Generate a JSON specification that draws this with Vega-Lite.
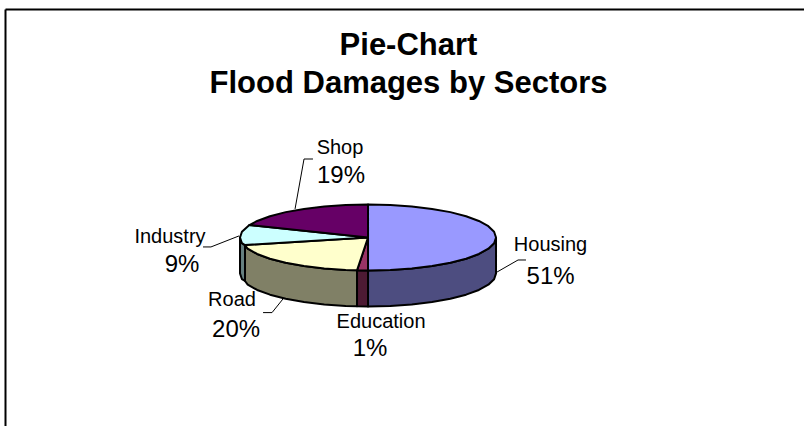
{
  "$schema": "https://vega.github.io/schema/vega-lite/v6.json",
  "width": 799,
  "height": 417,
  "autosize": {"type": "none"},
  "padding": {"left": 5, "top": 9, "right": 0, "bottom": 0},
  "background": "#ffffff",
  "view": {"stroke": null},
  "title": {
    "text": ["Pie-Chart", "Flood Damages by Sectors"],
    "anchor": "middle",
    "frame": "group",
    "font": "Liberation Sans",
    "fontSize": 31,
    "fontWeight": "bold",
    "color": "#000000",
    "lineHeight": 38,
    "baseline": "alphabetic",
    "offset": 0,
    "dx": 4,
    "dy": 115
  },
  "config": {"text": {"font": "Liberation Sans", "color": "#000000"}},
  "datasets": {
    "faces": [
      {"face":"Housing side","v":0,"x":1,"y":0},{"face":"Housing side","v":1,"x":0.985,"y":-0.045},{"face":"Housing side","v":2,"x":0.94,"y":-0.088},{"face":"Housing side","v":3,"x":0.866,"y":-0.129},{"face":"Housing side","v":4,"x":0.766,"y":-0.166},{"face":"Housing side","v":5,"x":0.643,"y":-0.198},{"face":"Housing side","v":6,"x":0.5,"y":-0.223},{"face":"Housing side","v":7,"x":0.342,"y":-0.242},{"face":"Housing side","v":8,"x":0.174,"y":-0.254},{"face":"Housing side","v":9,"x":0,"y":-0.258},{"face":"Housing side","v":10,"x":0,"y":-0.539},{"face":"Housing side","v":11,"x":0.174,"y":-0.535},{"face":"Housing side","v":12,"x":0.342,"y":-0.523},{"face":"Housing side","v":13,"x":0.5,"y":-0.504},{"face":"Housing side","v":14,"x":0.643,"y":-0.479},{"face":"Housing side","v":15,"x":0.766,"y":-0.447},{"face":"Housing side","v":16,"x":0.866,"y":-0.41},{"face":"Housing side","v":17,"x":0.94,"y":-0.369},{"face":"Housing side","v":18,"x":0.985,"y":-0.326},{"face":"Housing side","v":19,"x":1,"y":-0.281},{"face":"Housing side","v":20,"x":1,"y":0},
      {"face":"Education side","v":0,"x":0,"y":-0.258},{"face":"Education side","v":1,"x":-0.086,"y":-0.257},{"face":"Education side","v":2,"x":-0.086,"y":-0.538},{"face":"Education side","v":3,"x":0,"y":-0.539},{"face":"Education side","v":4,"x":0,"y":-0.258},
      {"face":"Road side","v":0,"x":-0.086,"y":-0.257},{"face":"Road side","v":1,"x":-0.174,"y":-0.254},{"face":"Road side","v":2,"x":-0.342,"y":-0.242},{"face":"Road side","v":3,"x":-0.5,"y":-0.223},{"face":"Road side","v":4,"x":-0.643,"y":-0.198},{"face":"Road side","v":5,"x":-0.766,"y":-0.166},{"face":"Road side","v":6,"x":-0.866,"y":-0.129},{"face":"Road side","v":7,"x":-0.94,"y":-0.088},{"face":"Road side","v":8,"x":-0.961,"y":-0.059},{"face":"Road side","v":9,"x":-0.961,"y":-0.34},{"face":"Road side","v":10,"x":-0.94,"y":-0.369},{"face":"Road side","v":11,"x":-0.866,"y":-0.41},{"face":"Road side","v":12,"x":-0.766,"y":-0.447},{"face":"Road side","v":13,"x":-0.643,"y":-0.479},{"face":"Road side","v":14,"x":-0.5,"y":-0.504},{"face":"Road side","v":15,"x":-0.342,"y":-0.523},{"face":"Road side","v":16,"x":-0.174,"y":-0.535},{"face":"Road side","v":17,"x":-0.086,"y":-0.538},{"face":"Road side","v":18,"x":-0.086,"y":-0.257},
      {"face":"Industry side","v":0,"x":-0.961,"y":-0.059},{"face":"Industry side","v":1,"x":-0.985,"y":-0.045},{"face":"Industry side","v":2,"x":-1,"y":0},{"face":"Industry side","v":3,"x":-1,"y":-0.281},{"face":"Industry side","v":4,"x":-0.985,"y":-0.326},{"face":"Industry side","v":5,"x":-0.961,"y":-0.34},{"face":"Industry side","v":6,"x":-0.961,"y":-0.059},
      {"face":"Housing top","v":0,"x":0,"y":0},{"face":"Housing top","v":1,"x":0,"y":0.258},{"face":"Housing top","v":2,"x":0.174,"y":0.254},{"face":"Housing top","v":3,"x":0.342,"y":0.242},{"face":"Housing top","v":4,"x":0.5,"y":0.223},{"face":"Housing top","v":5,"x":0.643,"y":0.198},{"face":"Housing top","v":6,"x":0.766,"y":0.166},{"face":"Housing top","v":7,"x":0.866,"y":0.129},{"face":"Housing top","v":8,"x":0.94,"y":0.088},{"face":"Housing top","v":9,"x":0.985,"y":0.045},{"face":"Housing top","v":10,"x":1,"y":0},{"face":"Housing top","v":11,"x":0.985,"y":-0.045},{"face":"Housing top","v":12,"x":0.94,"y":-0.088},{"face":"Housing top","v":13,"x":0.866,"y":-0.129},{"face":"Housing top","v":14,"x":0.766,"y":-0.166},{"face":"Housing top","v":15,"x":0.643,"y":-0.198},{"face":"Housing top","v":16,"x":0.5,"y":-0.223},{"face":"Housing top","v":17,"x":0.342,"y":-0.242},{"face":"Housing top","v":18,"x":0.174,"y":-0.254},{"face":"Housing top","v":19,"x":0,"y":-0.258},{"face":"Housing top","v":20,"x":0,"y":0},
      {"face":"Education top","v":0,"x":0,"y":0},{"face":"Education top","v":1,"x":0,"y":-0.258},{"face":"Education top","v":2,"x":-0.086,"y":-0.257},{"face":"Education top","v":3,"x":0,"y":0},
      {"face":"Road top","v":0,"x":0,"y":0},{"face":"Road top","v":1,"x":-0.086,"y":-0.257},{"face":"Road top","v":2,"x":-0.174,"y":-0.254},{"face":"Road top","v":3,"x":-0.342,"y":-0.242},{"face":"Road top","v":4,"x":-0.5,"y":-0.223},{"face":"Road top","v":5,"x":-0.643,"y":-0.198},{"face":"Road top","v":6,"x":-0.766,"y":-0.166},{"face":"Road top","v":7,"x":-0.866,"y":-0.129},{"face":"Road top","v":8,"x":-0.94,"y":-0.088},{"face":"Road top","v":9,"x":-0.961,"y":-0.059},{"face":"Road top","v":10,"x":0,"y":0},
      {"face":"Industry top","v":0,"x":0,"y":0},{"face":"Industry top","v":1,"x":-0.961,"y":-0.059},{"face":"Industry top","v":2,"x":-0.985,"y":-0.045},{"face":"Industry top","v":3,"x":-1,"y":0},{"face":"Industry top","v":4,"x":-0.985,"y":0.045},{"face":"Industry top","v":5,"x":-0.927,"y":0.097},{"face":"Industry top","v":6,"x":0,"y":0},
      {"face":"Shop top","v":0,"x":0,"y":0},{"face":"Shop top","v":1,"x":-0.927,"y":0.097},{"face":"Shop top","v":2,"x":-0.866,"y":0.129},{"face":"Shop top","v":3,"x":-0.766,"y":0.166},{"face":"Shop top","v":4,"x":-0.643,"y":0.198},{"face":"Shop top","v":5,"x":-0.5,"y":0.223},{"face":"Shop top","v":6,"x":-0.342,"y":0.242},{"face":"Shop top","v":7,"x":-0.174,"y":0.254},{"face":"Shop top","v":8,"x":0,"y":0.258},{"face":"Shop top","v":9,"x":0,"y":0}
    ],
    "leaders": [
      {"sector":"Housing","v":0,"x":1.008,"y":-0.27},{"sector":"Housing","v":1,"x":1.172,"y":-0.176},{"sector":"Housing","v":2,"x":1.234,"y":-0.176},
      {"sector":"Shop","v":0,"x":-0.57,"y":0.223},{"sector":"Shop","v":1,"x":-0.5,"y":0.613},{"sector":"Shop","v":2,"x":-0.43,"y":0.613},
      {"sector":"Road","v":0,"x":-0.664,"y":-0.48},{"sector":"Road","v":1,"x":-0.75,"y":-0.587},{"sector":"Road","v":2,"x":-0.82,"y":-0.587},
      {"sector":"Industry","v":0,"x":-1.008,"y":0.012},{"sector":"Industry","v":1,"x":-1.227,"y":-0.074},{"sector":"Industry","v":2,"x":-1.289,"y":-0.074}
    ],
    "sectors": [
      {"sector":"Housing","share":51,"nameX":1.426,"nameY":-0.105,"pctX":1.426,"pctY":-0.363},
      {"sector":"Education","share":1,"nameX":0.102,"nameY":-0.707,"pctX":0.016,"pctY":-0.926},
      {"sector":"Road","share":20,"nameX":-1.0625,"nameY":-0.535,"pctX":-1.031,"pctY":-0.777},
      {"sector":"Industry","share":9,"nameX":-1.547,"nameY":-0.043,"pctX":-1.453,"pctY":-0.27},
      {"sector":"Shop","share":19,"nameX":-0.219,"nameY":0.652,"pctX":-0.211,"pctY":0.426}
    ]
  },
  "resolve": {"scale": {"x": "shared", "y": "shared"}},
  "layer": [
    {
      "data": {"name": "faces"},
      "mark": {"type": "line", "stroke": "#000000", "strokeWidth": 2, "strokeJoin": "round", "clip": false},
      "encoding": {
        "x": {
          "field": "x", "type": "quantitative",
          "scale": {"domain": [-2.836, 3.406], "nice": false, "zero": false},
          "axis": {"orient": "top", "title": null, "grid": false, "ticks": false, "labels": false, "domain": true, "domainColor": "#000000", "domainWidth": 2}
        },
        "y": {
          "field": "y", "type": "quantitative",
          "scale": {"domain": [-1.473, 1.785], "nice": false, "zero": false},
          "axis": {"orient": "left", "title": null, "grid": false, "ticks": false, "labels": false, "domain": true, "domainColor": "#000000", "domainWidth": 2}
        },
        "order": {"field": "v", "type": "quantitative"},
        "detail": {"field": "face", "type": "nominal"},
        "fill": {
          "field": "face", "type": "nominal", "legend": null,
          "scale": {
            "domain": ["Housing side", "Education side", "Road side", "Industry side", "Housing top", "Education top", "Road top", "Industry top", "Shop top"],
            "range": ["#4d4d80", "#4d1a33", "#808066", "#668080", "#9999ff", "#993366", "#ffffcc", "#ccffff", "#660066"]
          }
        }
      }
    },
    {
      "data": {"name": "leaders"},
      "mark": {"type": "line", "stroke": "#000000", "strokeWidth": 1, "clip": false},
      "encoding": {
        "x": {"field": "x", "type": "quantitative"},
        "y": {"field": "y", "type": "quantitative"},
        "order": {"field": "v", "type": "quantitative"},
        "detail": {"field": "sector", "type": "nominal"}
      }
    },
    {
      "data": {"name": "sectors"},
      "mark": {"type": "text", "fontSize": 20, "align": "center", "baseline": "alphabetic"},
      "encoding": {
        "x": {"field": "nameX", "type": "quantitative"},
        "y": {"field": "nameY", "type": "quantitative"},
        "text": {"field": "sector", "type": "nominal"}
      }
    },
    {
      "data": {"name": "sectors"},
      "transform": [{"calculate": "datum.share + '%'", "as": "shareLabel"}],
      "mark": {"type": "text", "fontSize": 24, "align": "center", "baseline": "alphabetic"},
      "encoding": {
        "x": {"field": "pctX", "type": "quantitative"},
        "y": {"field": "pctY", "type": "quantitative"},
        "text": {"field": "shareLabel", "type": "nominal"}
      }
    }
  ]
}
